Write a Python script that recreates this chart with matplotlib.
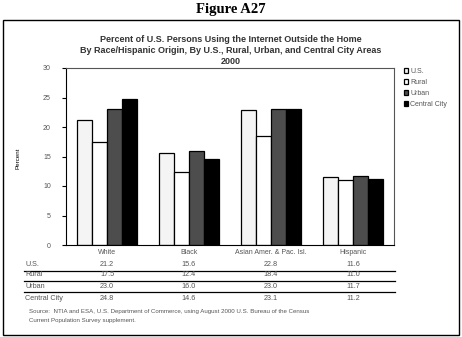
import matplotlib.pyplot as plt
import numpy as np
from matplotlib.patches import Rectangle

groups = ["White", "Black", "Asian Amer. & Pac. Isl.", "Hispanic"]
series = ["U.S.", "Rural", "Urban", "Central City"]
us = [21.2, 15.6, 22.8, 11.6]
rural = [17.5, 12.4, 18.4, 11.0]
urban = [23.0, 16.0, 23.0, 11.7]
central_city = [24.8, 14.6, 23.1, 11.2]
colors = ["#f4f4f4", "#ffffff", "#4d4d4d", "#000000"]

plt.rcParams['font.family'] = ['Liberation Sans', 'DejaVu Sans']

W, H = 462, 337
fig = plt.figure(figsize=(W / 100, H / 100), dpi=100)


def fx(px):
    return px / W


def fy(py):
    return 1 - py / H


# marco exterior
fig.patches.append(Rectangle((fx(2.5), fy(335)), fx(456.5), 315 / H, transform=fig.transFigure,
                             fill=False, lw=1, ec="black"))

fig.text(fx(231), fy(10), "Figure A27", ha="center", va="center", fontsize=10.5,
         fontweight="bold", family="Liberation Serif")

titulo = ["Percent of U.S. Persons Using the Internet Outside the Home",
          "By Race/Hispanic Origin, By U.S., Rural, Urban, and Central City Areas",
          "2000"]
for i, t in enumerate(titulo):
    fig.text(fx(231), fy(40 + 10.5 * i), t, ha="center", va="center", fontsize=6.5,
             fontweight="bold", color="#333333")

ax = fig.add_axes([fx(66), fy(245), fx(394 - 66), fy(68) - fy(245)])
valores = [us, rural, urban, central_city]
x = np.arange(len(groups))
ancho = 0.18
for i, (nombre, v) in enumerate(zip(series, valores)):
    ax.bar(x + (i - 1.5) * ancho, v, ancho, color=colors[i], edgecolor="black", lw=0.9, label=nombre)

ax.set_xlim(-0.5, 3.5)
ax.set_ylim(0, 30)
ax.set_yticks(range(0, 31, 5))
ax.set_xticks(x)
ax.set_xticklabels(groups)
ax.tick_params(axis="both", labelsize=5, colors="#555555", width=0.8)
ax.tick_params(axis="x", length=0, pad=3)
ax.tick_params(axis="y", direction="out", length=3, pad=8, color="black")
for s in ax.spines.values():
    s.set_linewidth(0.8)
    s.set_color("#555555")
ax.spines["bottom"].set_color("black")
ax.spines["left"].set_color("black")

fig.text(fx(18), fy(158), "Percent", rotation=90, ha="center", va="center", fontsize=4.5)

ax.legend(loc="upper left", bbox_to_anchor=(1.01, 1.035), frameon=False, fontsize=5,
          handlelength=0.7, handleheight=0.7, handletextpad=0.3, labelspacing=0.55,
          labelcolor="#555555")

# tabla de datos bajo el grafico
filas_y = [264, 275, 286, 299]
for nombre, v, yy in zip(series, valores, filas_y):
    fig.text(fx(25), fy(yy), nombre, ha="left", va="center", fontsize=5.2, color="#555555")
    for xi, val in zip(x, v):
        xc = ax.transData.transform((xi, 0))[0] / fig.dpi / fig.get_figwidth()
        fig.text(xc, fy(yy), f"{val:.1f}", ha="center", va="center", fontsize=5.2, color="#555555")
for yy in [270.5, 281, 291.5]:
    fig.add_artist(plt.Line2D([fx(24), fx(395)], [fy(yy), fy(yy)], transform=fig.transFigure,
                              color="black", lw=0.9))

fig.text(fx(29), fy(312), "Source:  NTIA and ESA, U.S. Department of Commerce, using August 2000 U.S. Bureau of the Census",
         ha="left", va="center", fontsize=4.4, color="#555555")
fig.text(fx(29), fy(320.5), "Current Population Survey supplement.",
         ha="left", va="center", fontsize=4.4, color="#555555")

fig.savefig("out.png", dpi=100)
